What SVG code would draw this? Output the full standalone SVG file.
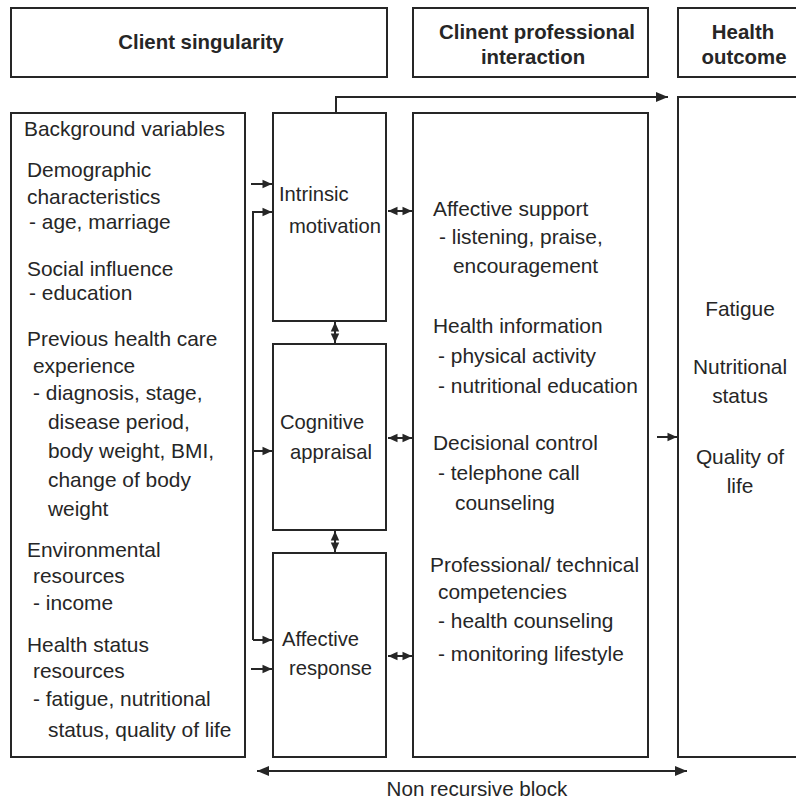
<svg xmlns="http://www.w3.org/2000/svg" width="796" height="799" viewBox="0 0 796 799">
  <style>
    .box { fill: #fff; stroke: #262626; stroke-width: 2; }
    .ln { fill: none; stroke: #262626; stroke-width: 2; }
    text { font-family: "Liberation Sans", Arial, sans-serif; font-size: 20.9px; fill: #262626; }
    .hd { font-weight: bold; font-size: 20.4px; }
    .mid { text-anchor: middle; }
    .foot { font-size: 20.6px; }
    .node text { font-size: 20.2px; }
  </style>
  <defs>
    <marker id="arr" markerUnits="userSpaceOnUse" markerWidth="14" markerHeight="14" viewBox="0 0 14 14" refX="13" refY="7" orient="auto-start-reverse">
      <path d="M1,2 L13,7 L1,12 Z" fill="#262626"/>
    </marker>
    <marker id="arrS" markerUnits="userSpaceOnUse" markerWidth="12" markerHeight="12" viewBox="0 0 12 12" refX="10.5" refY="6" orient="auto-start-reverse">
      <path d="M1,1.8 L10.5,6 L1,10.2 Z" fill="#262626"/>
    </marker>
  </defs>
  <rect width="796" height="799" fill="#fff"/>

  <!-- column headers -->
  <g id="hdr-client">
    <rect class="box" x="11" y="8" width="376" height="69"/>
    <text class="hd mid" x="201" y="49">Client singularity</text>
  </g>
  <g id="hdr-interaction">
    <rect class="box" x="413" y="8" width="235" height="69"/>
    <text class="hd mid" x="537" y="39">Clinent professional</text>
    <text class="hd mid" x="533" y="64">interaction</text>
  </g>
  <g id="hdr-outcome">
    <rect class="box" x="678" y="8" width="130" height="69"/>
    <text class="hd mid" x="743" y="39">Health</text>
    <text class="hd mid" x="744" y="64">outcome</text>
  </g>

  <!-- background variables -->
  <g id="background">
    <rect class="box" x="11" y="113" width="234" height="644"/>
    <text x="24" y="136">Background variables</text>
    <text x="27" y="177">Demographic</text>
    <text x="27" y="204">characteristics</text>
    <text x="29" y="229">- age, marriage</text>
    <text x="27" y="276">Social influence</text>
    <text x="29" y="300">- education</text>
    <text x="27" y="346">Previous health care</text>
    <text x="33" y="373">experience</text>
    <text x="33" y="400">- diagnosis, stage,</text>
    <text x="48" y="429">disease period,</text>
    <text x="48" y="458">body weight, BMI,</text>
    <text x="48" y="487">change of body</text>
    <text x="48" y="516">weight</text>
    <text x="27" y="557">Environmental</text>
    <text x="33" y="583">resources</text>
    <text x="33" y="610">- income</text>
    <text x="27" y="652">Health status</text>
    <text x="33" y="678">resources</text>
    <text x="33" y="706">- fatigue, nutritional</text>
    <text x="48" y="737">status, quality of life</text>
  </g>

  <!-- client response nodes -->
  <g id="intrinsic" class="node">
    <rect class="box" x="273" y="113" width="113" height="208"/>
    <text x="279" y="201">Intrinsic</text>
    <text x="289" y="233">motivation</text>
  </g>
  <g id="cognitive" class="node">
    <rect class="box" x="273" y="344" width="113" height="186"/>
    <text x="280" y="429">Cognitive</text>
    <text x="290" y="459">appraisal</text>
  </g>
  <g id="affective" class="node">
    <rect class="box" x="273" y="553" width="113" height="204"/>
    <text x="282" y="646">Affective</text>
    <text x="289" y="675">response</text>
  </g>

  <!-- professional interaction -->
  <g id="interaction">
    <rect class="box" x="413" y="113" width="235" height="644"/>
    <text x="433" y="216">Affective support</text>
    <text x="439" y="244">- listening, praise,</text>
    <text x="453" y="273">encouragement</text>
    <text x="433" y="333">Health information</text>
    <text x="438" y="363">- physical activity</text>
    <text x="438" y="393">- nutritional education</text>
    <text x="433" y="450">Decisional control</text>
    <text x="438" y="480">- telephone call</text>
    <text x="455" y="510">counseling</text>
    <text x="430" y="572">Professional/ technical</text>
    <text x="438" y="599">competencies</text>
    <text x="438" y="628">- health counseling</text>
    <text x="438" y="661">- monitoring lifestyle</text>
  </g>

  <!-- health outcome -->
  <g id="outcome">
    <rect class="box" x="678" y="97" width="130" height="660"/>
    <text class="mid" x="740" y="316">Fatigue</text>
    <text class="mid" x="740" y="374">Nutritional</text>
    <text class="mid" x="740" y="403">status</text>
    <text class="mid" x="740" y="464">Quality of</text>
    <text class="mid" x="740" y="493">life</text>
  </g>

  <!-- connectors -->
  <g id="connectors">
    <path class="ln" d="M336,113 V97 H668" marker-end="url(#arr)"/>
    <path class="ln" d="M251,184 H272" marker-end="url(#arrS)"/>
    <path class="ln" d="M253,640 V212 H272" marker-end="url(#arrS)"/>
    <path class="ln" d="M253,451 H272" marker-end="url(#arrS)"/>
    <path class="ln" d="M253,640 H272" marker-end="url(#arrS)"/>
    <path class="ln" d="M251,669 H272" marker-end="url(#arrS)"/>
    <path class="ln" d="M388,211 H412" marker-start="url(#arrS)" marker-end="url(#arrS)"/>
    <path class="ln" d="M388,438 H412" marker-start="url(#arrS)" marker-end="url(#arrS)"/>
    <path class="ln" d="M388,656 H412" marker-start="url(#arrS)" marker-end="url(#arrS)"/>
    <path class="ln" d="M335,322 V343" marker-start="url(#arrS)" marker-end="url(#arrS)"/>
    <path class="ln" d="M335,531 V552" marker-start="url(#arrS)" marker-end="url(#arrS)"/>
    <path class="ln" d="M657,437 H677" marker-end="url(#arrS)"/>
    <path class="ln" d="M257,771 H687" marker-start="url(#arr)" marker-end="url(#arr)"/>
  </g>
  <text class="mid foot" x="477" y="796">Non recursive block</text>
</svg>
